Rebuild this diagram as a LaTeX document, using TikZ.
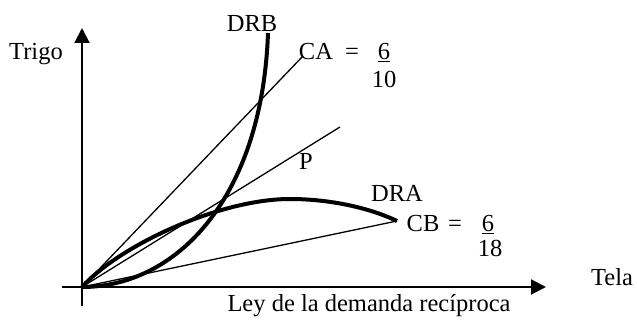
\documentclass[tikz,border=0pt]{standalone}
\usepackage{fontspec}
\setmainfont{Liberation Serif}
\usetikzlibrary{arrows.meta}
\begin{document}
\begin{tikzpicture}[x=1pt,y=-1pt,
  lbl/.style={anchor=base,inner sep=0pt,font=\fontsize{24.5}{29}\selectfont},
  axis/.style={line width=2pt,-{Triangle[length=15pt,width=15pt]}},
  ray/.style={line width=1.3pt},
  curve/.style={line width=4pt}]
\useasboundingbox (0,0) rectangle (637,320);
% named points
\coordinate (O) at (82,287);
\coordinate (ybot) at (82,306);
\coordinate (ytop) at (82,28);
\coordinate (xleft) at (62,287);
\coordinate (xright) at (546,287);
\coordinate (caend) at (303,56);
\coordinate (pend) at (340,127);
\coordinate (cbend) at (397,221);
\coordinate (drbend) at (268,33);
\coordinate (drapeak) at (290,199);
% axes
\draw[axis] (ybot) -- (ytop);
\draw[axis] (xleft) -- (xright);
% rays
\draw[ray] (O) -- (caend);
\draw[ray] (O) -- (pend);
\draw[ray] (O) -- (cbend);
% curves
\draw[curve] (O) .. controls (175,287) and (262,200) .. (drbend);
\draw[curve] (O) .. controls (120,245) and (220,199) .. (drapeak)
  .. controls (330,199) and (370,208) .. (cbend);
% labels
\node[lbl] (trigo) at (36,60) {Trigo};
\node[lbl] (tela) at (612,286) {Tela};
\node[lbl] (ley) at (369,312) {Ley de la demanda recíproca};
\node[lbl] (drb) at (252,32) {DRB};
\node[lbl] (ca) at (316,60) {CA};
\node[lbl] (caeq) at (352,60) {=};
\node[lbl] (canum) at (384,60) {\underline{6}};
\node[lbl] (caden) at (384,88) {10};
\node[lbl] (p) at (306,170) {P};
\node[lbl] (dra) at (397,202) {DRA};
\node[lbl] (cb) at (423,232) {CB};
\node[lbl] (cbeq) at (455,232) {=};
\node[lbl] (cbnum) at (488,232) {\underline{6}};
\node[lbl] (cbden) at (490,257) {18};
\end{tikzpicture}
\end{document}
